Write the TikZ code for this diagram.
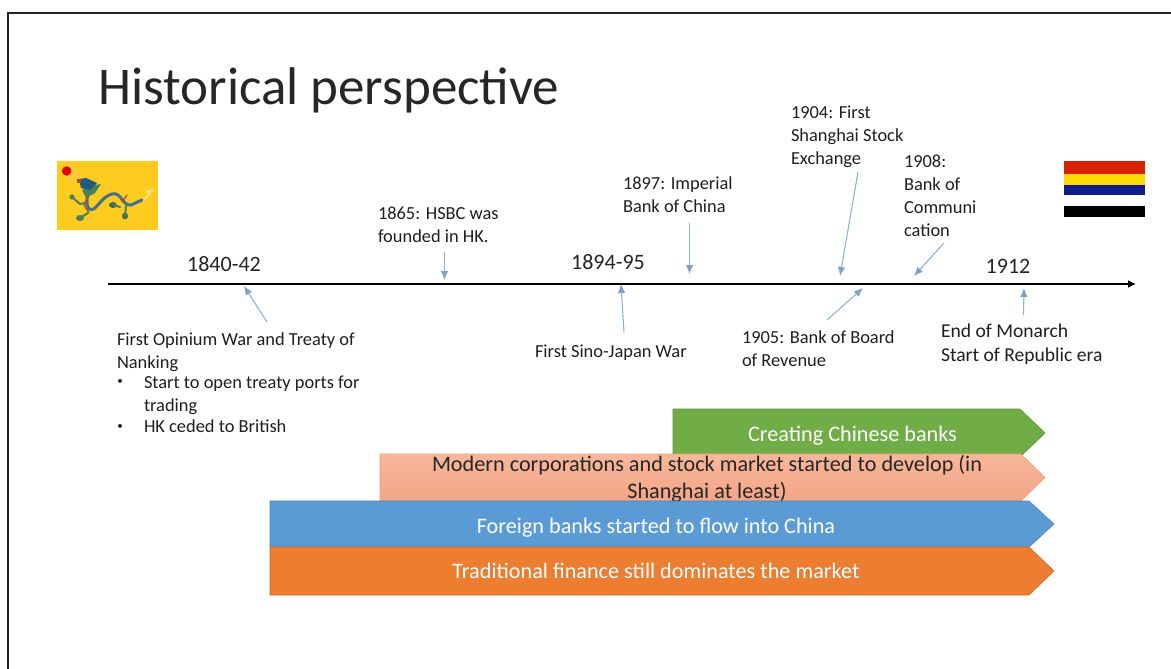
\documentclass[tikz,border=0pt]{standalone}
\usepackage{fontspec}
\setmainfont{Carlito}
\usetikzlibrary{arrows.meta}
\definecolor{arrowblue}{HTML}{8DB3DC}
\definecolor{cgreen}{HTML}{70AD47}
\definecolor{cpeachtop}{HTML}{F7B79C}
\definecolor{cpeachbot}{HTML}{F4A586}
\definecolor{cblue}{HTML}{5B9BD5}
\definecolor{corange}{HTML}{ED7D31}
\definecolor{qyellow}{HTML}{FECC1E}
\definecolor{dragonblue}{HTML}{44708F}
\definecolor{dragonhead}{HTML}{1E5A82}
\definecolor{dragongreen}{HTML}{4A7F5A}
\definecolor{dragondark}{HTML}{3D6A60}
\definecolor{dragonred}{HTML}{B04A2E}
\definecolor{rred}{HTML}{D92105}
\definecolor{ryellow}{HTML}{FFD900}
\definecolor{rblue}{HTML}{0F1C8C}
\tikzset{
  x=1pt,y=-1pt,
  lab/.style={inner sep=0pt,outer sep=0pt,anchor=north west,align=left,font=\fontsize{18.4}{23}\selectfont,text=black!88},
  bulletlab/.style={inner sep=0pt,outer sep=0pt,anchor=center,font=\fontsize{11}{12}\selectfont,text=black!88},
  yearlab/.style={inner sep=0pt,anchor=center,font=\fontsize{22}{26}\selectfont,text=black!85},
  pointer/.style={draw=arrowblue,line width=1.1pt,-{Latex[length=9pt,width=7.5pt,color=arrowblue!90!black]}},
  band/.style={line width=.6pt},
  bandtext/.style={inner sep=0pt,anchor=center,align=center,font=\fontsize{22.2}{26}\selectfont},
}
\begin{document}
\begin{tikzpicture}
\useasboundingbox (0,0) rectangle (1171,669);
\fill[white] (0,0) rectangle (1171,669);
% frame
\draw[black!85,line width=2pt] (8,669) -- (8,13.5) -- (1171,13.5);
% title
\node (title) [inner sep=0pt,anchor=west,font=\fontsize{53}{60}\selectfont,text=black!85] at (98,90) {Historical perspective};
% Qing flag
\fill[qyellow] (57,161) rectangle (158,230);
\fill[red!90!black] (66.7,171) circle (4.7);
\draw[black!22,line width=.6pt] (70,165) .. controls (78,170) and (72,176) .. (80,178) (66,178) .. controls (72,182) and (76,178) .. (80,181);
\draw[white!55!qyellow,line width=1.4pt,line cap=round] (142,200) .. controls (146,199) and (148,196) .. (150,191) (146,192) -- (153,190);
% legs
\fill[dragongreen] (72,197) circle (2.6) (80,218) ellipse (4 and 3);
\fill[dragondark] (113,205) ellipse (4 and 3) (125,216) ellipse (3 and 3.4);
\draw[dragongreen,line width=2pt,line cap=round] (72,197) -- (80,204) -- (85,203) (80,218) -- (88,213) (113,205) -- (120,207) (125,216) -- (126,206);
% body
\draw[dragonblue,line width=3pt,line cap=round] (86,190) .. controls (90,196) and (84,204) .. (89,209) .. controls (96,213) and (100,197) .. (112,194) .. controls (122,192) and (122,206) .. (131,205) -- (142,200);
\draw[dragonred,line width=1.2pt,line cap=round] (91,190) -- (84,205) -- (89,213) (122,202) -- (127,195);
% head and mane
\fill[dragongreen] (82,190) -- (90,186) -- (101,184) -- (95,193) -- (86,198) -- cycle;
\fill[dragonhead] (79,179) -- (86,178) -- (97,183) -- (90,190) -- (81,188) -- cycle;
\fill[dragonred] (77,179) rectangle (81,183);
% Republic flag
\fill[rred] (1064,161) rectangle (1145,174);
\fill[ryellow] (1064,174) rectangle (1145,185);
\fill[rblue] (1064,185) rectangle (1145,195);
\fill[black] (1064,206) rectangle (1145,217);
% timeline
\coordinate (tlstart) at (108,284);
\coordinate (tlend) at (1136,284);
\draw[black,line width=2.2pt,-{Latex[length=8pt,width=8pt]}] (tlstart) -- (tlend);
% years
\node (y1840) [yearlab] at (224,264) {1840-42};
\node (y1894) [yearlab] at (608,262.5) {1894-95};
\node (y1912) [yearlab] at (1008,266.5) {1912};
% labels
\node (a1865) [lab] at (378,206.5) {1865: HSBC was\\founded in HK.};
\node (a1897) [lab] at (623,177) {1897: Imperial\\Bank of China};
\node (a1904) [lab] at (791,106) {1904: First\\Shanghai Stock\\Exchange};
\node (a1908) [lab] at (904,155) {1908:\\Bank of\\Communi\\cation};
\node (a1905) [lab] at (742,330.5) {1905: Bank of Board\\of Revenue};
\node (a1912) [lab,font=\fontsize{19.6}{23.5}\selectfont] at (941,324) {End of Monarch\\Start of Republic era};
\node (a1894) [lab] at (535,344.5) {First Sino-Japan War};
\node (a1840) [lab] at (117,332.5) {First Opinium War and Treaty of\\Nanking};
\node (b1) [bulletlab] at (120,382) {•};
\node (b1t) [lab] at (144,375.5) {Start to open treaty ports for\\trading};
\node (b2) [bulletlab] at (120,427) {•};
\node (b2t) [lab] at (144,420) {HK ceded to British};
% pointer ends
\coordinate (p1840a) at (267,322); \coordinate (p1840b) at (244,286);
\coordinate (p1865a) at (444.5,252); \coordinate (p1865b) at (444.5,280);
\coordinate (p1897a) at (689.5,223); \coordinate (p1897b) at (689.5,274);
\coordinate (p1894a) at (624,332); \coordinate (p1894b) at (621,284);
\coordinate (p1904a) at (858,172); \coordinate (p1904b) at (840,276);
\coordinate (p1908a) at (944,243); \coordinate (p1908b) at (914,276);
\coordinate (p1905a) at (827,320); \coordinate (p1905b) at (863,288);
\coordinate (p1912a) at (1023.5,315); \coordinate (p1912b) at (1024,288);
\foreach \n in {1840,1865,1897,1894,1904,1908,1905,1912}
  \draw[pointer] (p\n a) -- (p\n b);
% bands (bottom first)
\draw[band,draw=cgreen!85!black,fill=cgreen] (673,409) -- (1020,409) -- (1045,433) -- (1020,457) -- (673,457) -- cycle;
\node (bgreen) [bandtext,text=white] at (852.5,435.5) {Creating Chinese banks};
\draw[band,draw=cpeachbot!80!orange,top color=cpeachtop,bottom color=cpeachbot] (380,454) -- (1021,454) -- (1045,477.5) -- (1021,501) -- (380,501) -- cycle;
\node (bpeach) [bandtext,text=black!85,font=\fontsize{22.2}{27}\selectfont] at (707,479) {Modern corporations and stock market started to develop (in\\Shanghai at least)};
\draw[band,draw=cblue!85!black,fill=cblue] (270,501) -- (1029,501) -- (1054,524) -- (1029,547) -- (270,547) -- cycle;
\node (bblue) [bandtext,text=white] at (656,527.5) {Foreign banks started to flow into China};
\draw[band,draw=corange!85!black,fill=corange] (270,547) -- (1029,547) -- (1054,571) -- (1029,595) -- (270,595) -- cycle;
\node (borange) [bandtext,text=white] at (656,571) {Traditional finance still dominates the market};
\end{tikzpicture}
\end{document}
